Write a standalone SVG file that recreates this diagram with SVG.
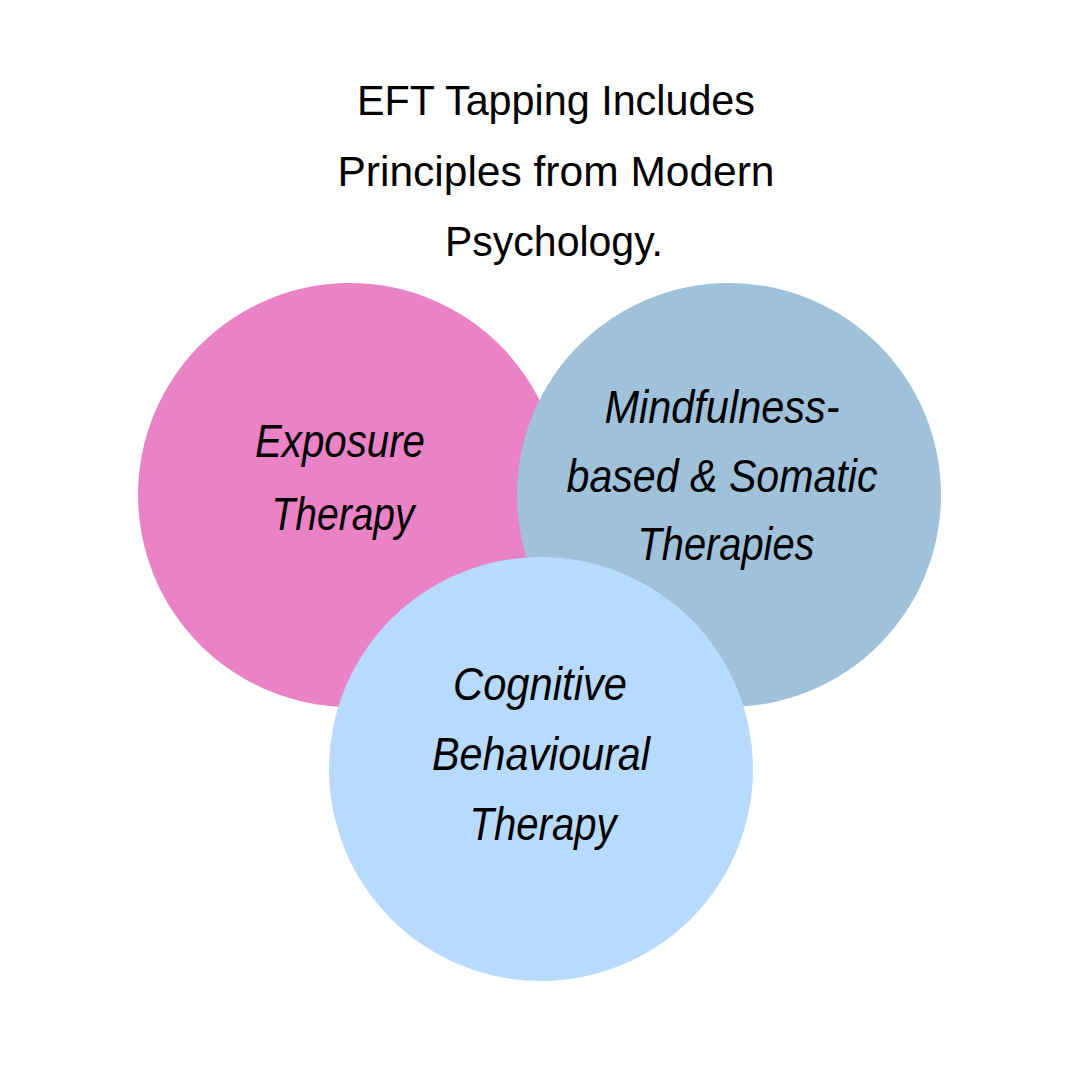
<svg xmlns="http://www.w3.org/2000/svg" width="1080" height="1080" viewBox="0 0 1080 1080">
  <style>
    .title { font-family: "Liberation Sans", Arial, sans-serif; font-size: 43px; fill: #000; text-anchor: middle; }
    .label { font-family: "Liberation Sans", Arial, sans-serif; font-size: 47px; font-style: italic; fill: #000; text-anchor: middle; }
  </style>
  <rect width="1080" height="1080" fill="#ffffff"/>
  <g id="title">
    <text class="title" x="556" y="115" textLength="398" lengthAdjust="spacingAndGlyphs">EFT Tapping Includes</text>
    <text class="title" x="556" y="186" textLength="437" lengthAdjust="spacingAndGlyphs">Principles from Modern</text>
    <text class="title" x="554" y="256" textLength="218" lengthAdjust="spacingAndGlyphs">Psychology.</text>
  </g>
  <g id="node-exposure">
    <circle cx="350" cy="495" r="212" fill="#E983C6"/>
    <text class="label" x="340" y="457" textLength="170" lengthAdjust="spacingAndGlyphs">Exposure</text>
    <text class="label" x="343" y="530" textLength="143" lengthAdjust="spacingAndGlyphs">Therapy</text>
  </g>
  <g id="node-mindfulness">
    <circle cx="729" cy="495" r="212" fill="#9FC1DA"/>
    <text class="label" x="722" y="423" textLength="235" lengthAdjust="spacingAndGlyphs">Mindfulness-</text>
    <text class="label" x="722" y="492" textLength="311" lengthAdjust="spacingAndGlyphs">based &amp; Somatic</text>
    <text class="label" x="726" y="560" textLength="177" lengthAdjust="spacingAndGlyphs">Therapies</text>
  </g>
  <g id="node-cbt">
    <circle cx="541" cy="769" r="212" fill="#B8DAFD"/>
    <text class="label" x="540" y="700" textLength="174" lengthAdjust="spacingAndGlyphs">Cognitive</text>
    <text class="label" x="541" y="770" textLength="218" lengthAdjust="spacingAndGlyphs">Behavioural</text>
    <text class="label" x="543" y="840" textLength="147" lengthAdjust="spacingAndGlyphs">Therapy</text>
  </g>
  <g id="connectors"/>
</svg>
